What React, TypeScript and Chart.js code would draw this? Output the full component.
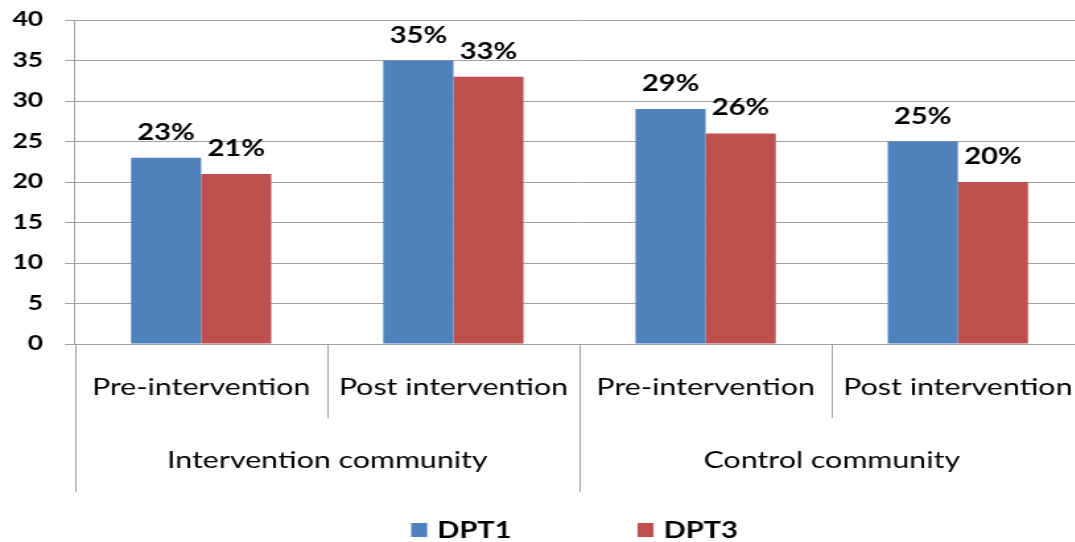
import React, { useEffect, useRef } from 'react';
import { Chart, registerables } from 'chart.js';

Chart.register(...registerables);

// ---- data ----
const groups: string[] = ['Intervention community', 'Control community'];
const categories: string[] = ['Pre-intervention', 'Post intervention', 'Pre-intervention', 'Post intervention'];
const categoryGroup: number[] = [0, 0, 1, 1];
const seriesNames: string[] = ['DPT1', 'DPT3'];
const dpt1: number[] = [23, 35, 29, 25];
const dpt3: number[] = [21, 33, 26, 20];
const yMin = 0;
const yMax = 40;
const yStep = 5;

// ---- style ----
const S = 1.32; // horizontal stretch of the reference
const VIEW_W = 1075;
const VIEW_H = 542;
const CW = Math.ceil(1086 / S);
const FONT = 'Lato, "Open Sans", sans-serif';
const GRID = '#a0a0a0';
const COLORS = ['#4F81BD', '#C0504D'];
const r = (x: number) => x / S;

const extrasPlugin = {
  id: 'extras',
  afterDatasetsDraw(chart: any) {
    const ctx = chart.ctx;
    ctx.save();
    ctx.fillStyle = '#000';
    ctx.textAlign = 'center';
    ctx.textBaseline = 'alphabetic';
    ctx.font = `700 22px ${FONT}`;
    chart.data.datasets.forEach((ds: any, di: number) => {
      const meta = chart.getDatasetMeta(di);
      meta.data.forEach((bar: any, i: number) => {
        ctx.fillText(`${ds.data[i]}%`, bar.x, bar.y - 18);
      });
    });
    ctx.restore();
  },
  afterDraw(chart: any) {
    const ctx = chart.ctx;
    const area = chart.chartArea;
    const xs = chart.scales.x;
    const n = categories.length;
    const centers = categories.map((_, i) => xs.getPixelForValue(i));
    const bounds: number[] = [area.left];
    for (let i = 0; i < n - 1; i++) bounds.push((centers[i] + centers[i + 1]) / 2);
    bounds.push(area.right);

    ctx.save();
    ctx.strokeStyle = GRID;
    ctx.lineWidth = 1;
    bounds.forEach((bx, bi) => {
      const isGroupEdge = bi === 0 || bi === n || categoryGroup[bi - 1] !== categoryGroup[bi];
      const yEnd = isGroupEdge ? 492 : 418;
      ctx.beginPath();
      ctx.moveTo(Math.round(bx) + 0.5, area.bottom);
      ctx.lineTo(Math.round(bx) + 0.5, yEnd);
      ctx.stroke();
    });

    ctx.fillStyle = '#000';
    ctx.textAlign = 'center';
    ctx.textBaseline = 'alphabetic';
    ctx.font = `400 23px ${FONT}`;
    categories.forEach((c, i) => ctx.fillText(c, centers[i], 395));

    groups.forEach((g, gi) => {
      const idx = categoryGroup.map((v, i) => (v === gi ? i : -1)).filter((v) => v >= 0);
      const left = bounds[idx[0]];
      const right = bounds[idx[idx.length - 1] + 1];
      ctx.fillText(g, (left + right) / 2, 468);
    });

    // legend
    ctx.font = `700 22px ${FONT}`;
    const boxW = r(16);
    const boxH = 14;
    const boxGap = r(10);
    const itemGap = r(126);
    const widths = seriesNames.map((nm) => boxW + boxGap + ctx.measureText(nm).width);
    const total = widths.reduce((a, b) => a + b, 0) + itemGap * (seriesNames.length - 1);
    let lx = r(574.5) - total / 2;
    seriesNames.forEach((nm, i) => {
      ctx.fillStyle = COLORS[i];
      ctx.fillRect(lx, 523, boxW, boxH);
      ctx.fillStyle = '#000';
      ctx.textAlign = 'left';
      ctx.fillText(nm, lx + boxW + boxGap, 538);
      lx += widths[i] + itemGap;
    });
    ctx.restore();
  },
};

export default function App() {
  const canvasRef = useRef<HTMLCanvasElement | null>(null);

  useEffect(() => {
    if (!canvasRef.current) return;
    const chart = new Chart(canvasRef.current, {
      type: 'bar',
      data: {
        labels: categories,
        datasets: [
          { label: seriesNames[0], data: dpt1, backgroundColor: COLORS[0], borderWidth: 0 },
          { label: seriesNames[1], data: dpt3, backgroundColor: COLORS[1], borderWidth: 0 },
        ],
      },
      options: {
        responsive: false,
        animation: false,
        events: [],
        layout: { padding: { top: 20, bottom: 198, left: 0, right: CW - r(1084) } },
        plugins: { legend: { display: false }, tooltip: { enabled: false } },
        datasets: { bar: { categoryPercentage: 0.556, barPercentage: 1 } },
        scales: {
          x: { type: 'category', display: false, offset: true },
          y: {
            min: yMin,
            max: yMax,
            ticks: {
              stepSize: yStep,
              padding: r(75) - r(10) - r(43),
              color: '#000',
              font: { family: FONT, size: 20, weight: '700' },
            },
            grid: { color: GRID, tickColor: GRID, tickLength: r(10), lineWidth: 1 },
            border: { display: true, color: GRID, width: 1 },
            afterFit: (scale: any) => {
              scale.width = r(75);
              scale.paddingTop = 0;
              scale.paddingBottom = 0;
            },
          },
        },
      },
      plugins: [extrasPlugin],
    } as any);
    return () => chart.destroy();
  }, []);

  return (
    <div style={{ position: 'fixed', left: 0, top: 0, width: VIEW_W, height: VIEW_H, overflow: 'hidden', background: '#fff' }}>
      <div style={{ width: CW, height: VIEW_H, transform: `scaleX(${S})`, transformOrigin: '0 0' }}>
        <canvas ref={canvasRef} width={CW} height={VIEW_H} style={{ display: 'block' }} />
      </div>
    </div>
  );
}
